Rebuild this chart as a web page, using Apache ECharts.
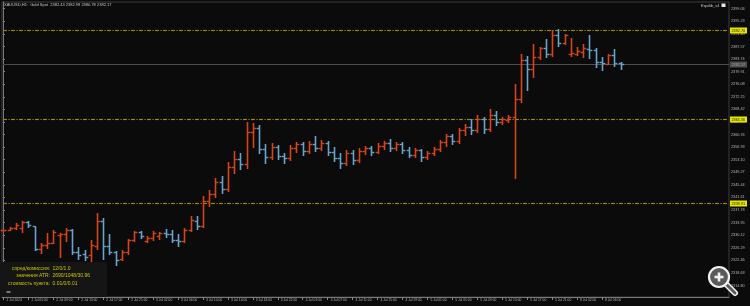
<!DOCTYPE html>
<html><head><meta charset="utf-8">
<script src="https://cdn.jsdelivr.net/npm/echarts@6/dist/echarts.min.js"></script>
<style>html,body{margin:0;padding:0;background:#0b0b0b;}#c{width:750px;height:306px;}</style>
</head><body><div id="c"></div>
<script>
// ---- data ----
const opens = [2331.6,2331.8,2332.2,2332.2,2334.0,2332.8,2325.9,2327.2,2327.8,2330.2,
2330.6,2331.6,2325.0,2324.4,2324.0,2326.8,2334.4,2326.7,2325.0,2322.8,
2325.0,2328.6,2331.1,2328.4,2329.4,2330.0,2330.9,2330.6,2328.6,2328.4,
2331.6,2334.4,2333.0,2340.4,2342.8,2346.2,2344.2,2351.0,2353.4,2351.8,
2361.6,2362.8,2356.4,2354.0,2357.0,2354.2,2353.6,2356.8,2357.8,2355.6,
2358.0,2356.6,2358.2,2355.4,2353.6,2352.0,2355.2,2353.0,2355.8,2356.6,
2355.4,2357.4,2358.2,2356.6,2357.8,2356.0,2354.6,2356.0,2353.8,2355.2,
2356.4,2358.6,2360.2,2358.8,2362.0,2363.2,2362.0,2365.6,2362.4,2366.6,
2364.6,2365.2,2366.2,2371.5,2383.3,2380.8,2384.5,2387.0,2385.2,2391.1,
2388.7,2385.3,2385.4,2385.8,2386.7,2386.5,2382.8,2382.3,2385.0,2382.43];
const highs = [2332.0,2332.6,2333.8,2334.4,2334.4,2333.0,2327.7,2330.9,2331.8,2330.9,
2332.4,2332.1,2326.5,2325.7,2328.8,2336.9,2335.2,2330.6,2325.2,2325.5,
2329.1,2331.4,2331.4,2329.8,2331.4,2331.1,2332.1,2331.6,2330.6,2332.4,
2335.9,2335.9,2342.0,2344.0,2347.6,2348.0,2352.4,2355.6,2355.0,2364.6,
2364.2,2363.8,2358.0,2358.2,2357.6,2355.0,2357.6,2358.6,2358.4,2358.8,
2360.2,2359.0,2358.8,2357.0,2355.0,2356.0,2356.2,2356.6,2357.4,2357.2,
2358.2,2358.8,2359.4,2358.6,2358.4,2357.0,2356.6,2356.4,2355.8,2357.0,
2359.2,2361.0,2360.8,2362.8,2364.0,2365.4,2366.6,2366.0,2368.4,2367.8,
2366.2,2366.8,2376.2,2385.3,2384.7,2388.4,2387.5,2389.9,2392.6,2392.9,
2391.4,2390.2,2387.4,2388.3,2391.2,2387.1,2384.3,2385.3,2386.8,2382.98];
const lows = [2331.3,2331.6,2332.0,2331.1,2332.6,2325.7,2324.8,2326.2,2327.7,2323.5,
2328.4,2324.3,2323.0,2322.5,2322.3,2326.0,2323.0,2324.3,2321.0,2322.5,
2324.5,2328.4,2329.4,2328.1,2328.8,2329.1,2329.6,2328.1,2326.7,2328.1,
2331.4,2332.1,2332.6,2339.0,2341.6,2343.0,2343.6,2349.0,2350.4,2350.6,
2357.0,2355.0,2352.2,2353.4,2353.2,2352.0,2353.0,2355.4,2354.6,2355.0,
2355.8,2356.0,2354.4,2352.6,2350.6,2351.4,2351.8,2352.4,2354.8,2354.6,
2355.0,2356.4,2355.8,2356.0,2355.2,2353.8,2354.0,2352.8,2353.2,2354.4,
2355.8,2357.4,2357.8,2358.2,2360.6,2361.0,2361.4,2361.2,2361.8,2363.6,
2364.0,2364.6,2347.4,2370.6,2374.4,2378.2,2383.8,2384.5,2384.8,2387.8,
2388.2,2384.8,2385.0,2384.3,2384.1,2381.2,2380.5,2382.1,2381.5,2380.78];
const closes = [2331.8,2332.3,2333.2,2334.0,2333.2,2325.9,2327.2,2327.8,2331.0,2330.6,
2331.6,2324.9,2324.2,2323.4,2327.2,2334.4,2326.7,2325.0,2322.5,2325.0,
2328.6,2331.1,2329.8,2329.4,2330.8,2330.8,2330.6,2328.6,2328.2,2331.6,
2334.6,2333.0,2340.4,2342.8,2346.2,2344.2,2351.0,2353.4,2351.8,2361.6,
2362.8,2356.4,2354.0,2357.0,2354.2,2353.6,2356.8,2357.8,2355.6,2358.0,
2356.6,2358.2,2355.4,2353.6,2352.0,2355.2,2353.0,2355.8,2356.6,2355.4,
2357.4,2358.2,2356.6,2357.8,2356.0,2354.6,2356.0,2353.8,2355.2,2356.4,
2358.6,2360.2,2358.8,2362.0,2363.2,2362.0,2365.6,2362.4,2366.6,2364.6,
2365.6,2366.2,2371.5,2383.3,2380.8,2384.5,2387.0,2385.2,2391.1,2388.7,
2391.1,2385.6,2386.2,2387.0,2386.5,2382.8,2382.4,2385.0,2382.5,2382.17];
const tickIndex = [0,4,8,12,16,20,24,28,32,36,40,44,48,52,56,60,64,68,72,76,80,84,88,92,96];
const timeLabels = ['2 Jul 2024','2 Jul 05:00','2 Jul 09:00','2 Jul 13:00','2 Jul 17:00','2 Jul 21:00',
'3 Jul 02:00','3 Jul 06:00','3 Jul 10:00','3 Jul 14:00','3 Jul 18:00','3 Jul 22:00',
'4 Jul 03:00','4 Jul 07:00','4 Jul 11:00','4 Jul 15:00','4 Jul 19:00',
'5 Jul 01:00','5 Jul 05:00','5 Jul 09:00','5 Jul 13:00','5 Jul 17:00','5 Jul 21:00',
'8 Jul 02:00','8 Jul 06:00'];
const priceTicks = [2314.80,2318.63,2322.46,2326.29,2330.12,2333.95,2337.78,2341.61,2345.44,2349.27,
2353.10,2356.93,2360.76,2364.59,2368.42,2372.25,2376.08,2379.91,2383.74,2387.57,2391.40,2395.23,2399.06];
const levels = [2392.70, 2365.56, 2339.91];
const bidPrice = 2382.17;
const titleText = 'XAUUSD,H1:  Gold Spot  2382.43 2382.98 2380.78 2382.17';
const infoLabels = ['спред/комиссия:', 'значения ATR:', 'стоимость пункта:'];
const infoValues = ['12/0/1.0', '2690/1048/30.96', '0.01/0/0.01'];

const UP = '#d8441a', DOWN = '#68a4cc';
const LEVEL = '#948a00';
const FONT = 'Liberation Sans';

const ohlc = opens.map((o, i) => [i, o, closes[i], lows[i], highs[i]]);

const chart = echarts.init(document.getElementById('c'), null, {renderer: 'canvas'});
const ym = 2401.10, yn = 2311.30;

function priceLine(kind) {
  return function (params, api) {
    const v = api.value(1);
    const cs = params.coordSys;
    const y = Math.round(api.coord([0, v])[1]);
    const kids = [];
    const x0 = cs.x + 1, x1 = cs.x + cs.width;
    if (kind === 'level') {
      for (let x = x0; x < x1; x += 8) {
        kids.push({type: 'rect', shape: {x: x, y: y - 0.1, width: Math.min(4, x1 - x), height: 1.2}, style: {fill: LEVEL}});
        if (x + 6 < x1) kids.push({type: 'rect', shape: {x: x + 5.5, y: y - 0.1, width: 1.2, height: 1.2}, style: {fill: LEVEL}});
      }
    } else {
      kids.push({type: 'rect', shape: {x: x0, y: y, width: x1 - x0, height: 1}, style: {fill: '#4c4c4c'}});
    }
    const bg = kind === 'level' ? '#e6e600' : '#4e4e4e';
    const fg = kind === 'level' ? '#202000' : '#a0a0a0';
    kids.push({type: 'rect', shape: {x: x1 + 1, y: y - 2.5, width: 17, height: 6}, style: {fill: bg}});
    kids.push({type: 'text', x: x1 + 2.5, y: y + 0.6, style: {text: v.toFixed(2), fill: fg, fontSize: 3.8, fontFamily: FONT, verticalAlign: 'middle'}});
    return {type: 'group', children: kids};
  };
}

chart.setOption({
  backgroundColor: '#0b0b0b',
  animation: false,
  grid: {left: 2, right: 21, top: 2, bottom: 9, show: true, borderColor: '#3c3c3c', borderWidth: 1},
  xAxis: {
    type: 'value', min: -0.24, max: 116.38,
    splitLine: {show: false},
    axisLine: {lineStyle: {color: '#7a7a7a', width: 1}},
    axisTick: {customValues: tickIndex, length: 3, lineStyle: {color: '#8a8a8a'}},
    axisLabel: {customValues: tickIndex, formatter: v => timeLabels[tickIndex.indexOf(Math.round(v))] || '',
      align: 'left', padding: [0, 0, 0, 3], margin: 1.5, fontSize: 3.3, color: '#b4b4b4', fontFamily: FONT}
  },
  yAxis: {
    type: 'value', position: 'right', min: yn, max: ym, scale: true,
    splitLine: {show: false},
    axisLine: {show: true, lineStyle: {color: '#7a7a7a', width: 1}},
    axisTick: {show: true, customValues: priceTicks, length: 1.5, lineStyle: {color: '#8a8a8a'}},
    axisLabel: {customValues: priceTicks, formatter: v => v.toFixed(2), margin: 2,
      fontSize: 3.8, color: '#b4b4b4', fontFamily: FONT}
  },
  series: [{
    type: 'custom', z: 1, clip: false, silent: true, emphasis: {disabled: true},
    data: levels.map(v => [0, v]), encode: {x: 0, y: 1},
    renderItem: priceLine('level')
  }, {
    type: 'custom', z: 1, clip: false, silent: true, emphasis: {disabled: true},
    data: [[0, bidPrice]], encode: {x: 0, y: 1},
    renderItem: priceLine('bid')
  }, {
    type: 'custom',
    data: ohlc,
    encode: {x: 0, y: [1, 2, 3, 4]},
    clip: false, silent: true,
    z: 3,
    emphasis: {disabled: true},
    renderItem: function (params, api) {
      const i = api.value(0);
      const o = api.value(1), c = api.value(2), l = api.value(3), h = api.value(4);
      const po = api.coord([i, o]), pc = api.coord([i, c]), pl = api.coord([i, l]), ph = api.coord([i, h]);
      const x = Math.round(po[0]);
      const col = c >= o ? UP : DOWN;
      const yo = Math.round(po[1]), yc = Math.round(pc[1]);
      const yh = Math.round(ph[1]), yl = Math.round(pl[1]);
      return {type: 'group', children: [
        {type: 'rect', shape: {x: x - 0.3, y: yh, width: 1.6, height: Math.max(1, yl - yh + 1)}, style: {fill: col}},
        {type: 'rect', shape: {x: x - 2.3, y: yo - 0.2, width: 2.2, height: 1.4}, style: {fill: col}},
        {type: 'rect', shape: {x: x + 1.1, y: yc - 0.2, width: 2.2, height: 1.4}, style: {fill: col}}
      ]};
    }
  }],
  graphic: [
    {type: 'text', left: 4, top: 2.5, z: 10, style: {text: titleText, fill: '#c4c4c4', fontSize: 4, fontFamily: FONT}},
    {type: 'text', left: 701, top: 3.5, z: 10, style: {text: 'Equilib_v4', fill: '#c4c4c4', fontSize: 4, fontFamily: FONT}},
    {type: 'rect', shape: {x: 721.5, y: 3.5, width: 4, height: 3.5}, z: 10, style: {fill: '#e8e8e8'}},
    {type: 'rect', shape: {x: 0, y: 262, width: 107, height: 35}, z: 5, style: {fill: '#151515'}},
    {type: 'text', x: 50, y: 268.3, z: 10, style: {text: infoLabels[0], fill: '#c8c400', fontSize: 5, fontFamily: FONT, align: 'right', verticalAlign: 'middle'}},
    {type: 'text', x: 50, y: 276, z: 10, style: {text: infoLabels[1], fill: '#c8c400', fontSize: 5, fontFamily: FONT, align: 'right', verticalAlign: 'middle'}},
    {type: 'text', x: 50, y: 283.5, z: 10, style: {text: infoLabels[2], fill: '#c8c400', fontSize: 5, fontFamily: FONT, align: 'right', verticalAlign: 'middle'}},
    {type: 'text', x: 52.5, y: 268.3, z: 10, style: {text: infoValues[0], fill: '#c8c400', fontSize: 5, fontFamily: FONT, verticalAlign: 'middle'}},
    {type: 'text', x: 52.5, y: 276, z: 10, style: {text: infoValues[1], fill: '#c8c400', fontSize: 5, fontFamily: FONT, verticalAlign: 'middle'}},
    {type: 'text', x: 52.5, y: 283.5, z: 10, style: {text: infoValues[2], fill: '#c8c400', fontSize: 5, fontFamily: FONT, verticalAlign: 'middle'}},
    {type: 'rect', shape: {x: 6.5, y: 291.5, width: 4, height: 1}, z: 10, style: {fill: '#dcdcdc'}},
    // viewer magnifier overlay
    {type: 'line', shape: {x1: 726, y1: 284, x2: 735, y2: 293}, z: 20, style: {stroke: '#f2f2f2', lineWidth: 6, lineCap: 'round'}},
    {type: 'line', shape: {x1: 726, y1: 284, x2: 735, y2: 293}, z: 21, style: {stroke: '#5a5a5a', lineWidth: 3, lineCap: 'round'}},
    {type: 'circle', shape: {cx: 719, cy: 277, r: 10}, z: 22, style: {fill: '#5a5a5a', stroke: '#f2f2f2', lineWidth: 2.2}},
    {type: 'rect', shape: {x: 714.5, y: 275.7, width: 9, height: 2.6}, z: 23, style: {fill: '#f2f2f2'}},
    {type: 'rect', shape: {x: 717.7, y: 272.5, width: 2.6, height: 9}, z: 23, style: {fill: '#f2f2f2'}}
  ]
});
</script></body></html>
